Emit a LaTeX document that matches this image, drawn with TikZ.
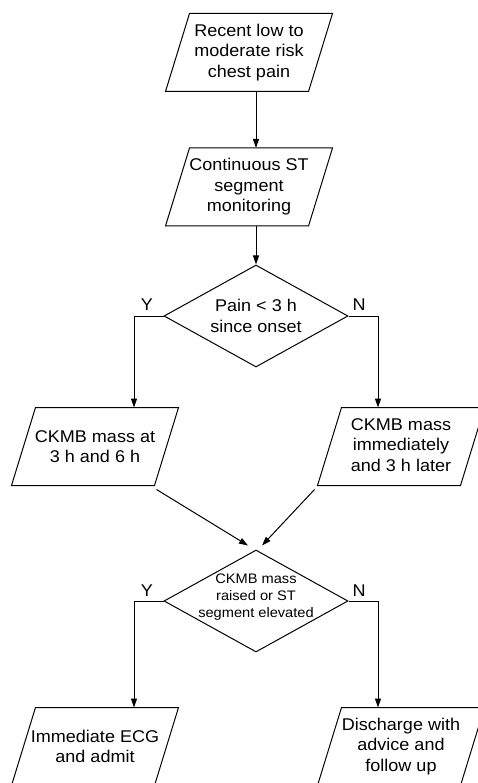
\documentclass[tikz,border=0pt]{standalone}
\usepackage{fontspec}
\setmainfont[FakeStretch=1.06]{Liberation Sans}
\usetikzlibrary{shapes.geometric,arrows.meta}
\begin{document}
\begin{tikzpicture}[x=1pt,y=-1pt,
  line width=1pt,
  every node/.style={font=\fontsize{17}{20.5}\selectfont, inner sep=0pt},
  pbox/.style={rectangle, minimum width=142pt, minimum height=77pt, align=center,
    append after command={\pgfextra{\draw[line width=1pt] ([xshift=12pt]\tikzlastnode.north west) -- ([xshift=12pt]\tikzlastnode.north east) -- ([xshift=-12pt]\tikzlastnode.south east) -- ([xshift=-12pt]\tikzlastnode.south west) -- cycle;}}},
  dbox/.style={diamond, draw, minimum width=184pt, minimum height=102pt, align=center},
  arr/.style={-{Triangle[length=9pt,width=6pt]}},
  small/.style={align=center, font=\fontsize{13.8}{17}\selectfont}
]
\useasboundingbox (0,0) rectangle (477,783);
\node[pbox] (b1) at (249,52.5) {Recent low to\\moderate risk\\chest pain};
\node[pbox] (b2) at (249,187) {Continuous ST\\segment\\monitoring};
\node[dbox, aspect=1.8] (d1) at (256,316) {Pain < 3 h\\since onset};
\node[pbox] (b3) at (95,446.5) {CKMB mass at\\3 h and 6 h};
\node[pbox] (b4) at (401,446.5) {\raisebox{-2pt}{\begin{tabular}{@{}c@{}}CKMB mass\\immediately\\and 3 h later\end{tabular}}};
\node[dbox] (d2) at (256,601) {};
\node[small] (d2t) at (256,597.5) {CKMB mass\\raised or ST\\segment elevated};
\node[pbox] (b5) at (95,746.5) {Immediate ECG\\and admit};
\node[pbox] (b6) at (401,746.5) {\raisebox{-5pt}{\begin{tabular}{@{}c@{}}Discharge with\\advice and\\follow up\end{tabular}}};

\node (y1) at (147,305) {Y};
\node (n1) at (359,305) {N};
\node (y2) at (147,591) {Y};
\node (n2) at (359,591) {N};

\coordinate (l1) at (134,316);
\coordinate (r1) at (378,316);
\coordinate (l2) at (134,601);
\coordinate (r2) at (378,601);

\draw[arr] (d1.north |- b1.south) -- (d1.north |- b2.north);
\draw[arr] (d1.north |- b2.south) -- (d1.north);
\draw[arr] (d1.west) -- (l1) -- (l1 |- b3.north);
\draw[arr] (d1.east) -- (r1) -- (r1 |- b4.north);
\draw[arr] ([shift={(-10,4)}]b3.south east) -- ([shift={(-8,-4)}]d2.north);
\draw[arr] ([shift={(-15,4)}]b4.south west) -- ([shift={(6,-4)}]d2.north);
\draw[arr] (d2.west) -- (l2) -- (l2 |- b5.north);
\draw[arr] (d2.east) -- (r2) -- (r2 |- b6.north);
\end{tikzpicture}
\end{document}
